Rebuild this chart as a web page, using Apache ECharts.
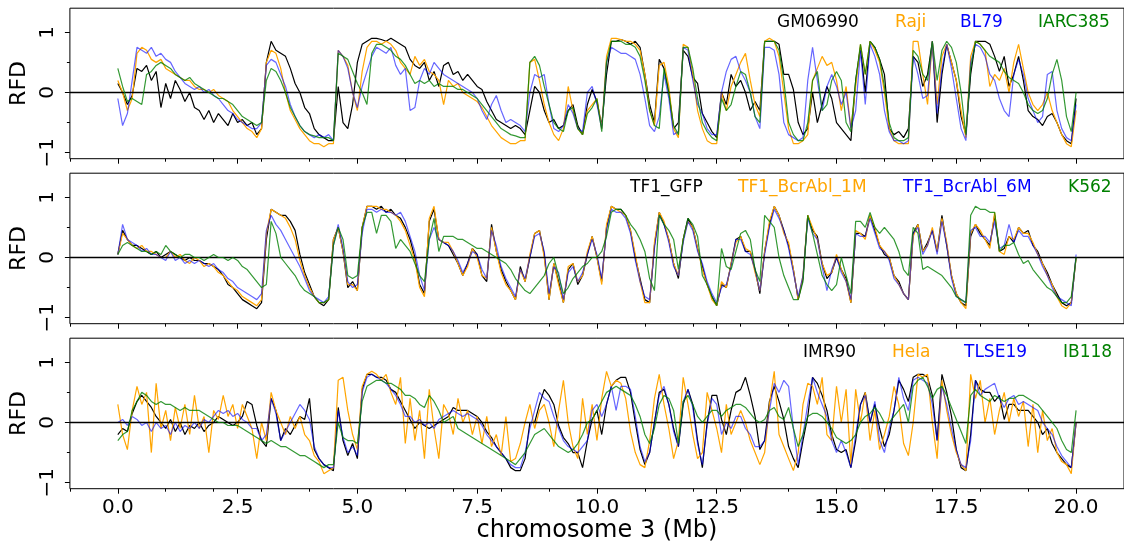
<!DOCTYPE html>
<html><head><meta charset="utf-8">
<script src="https://cdn.jsdelivr.net/npm/echarts@6/dist/echarts.min.js"></script>
<style>html,body{margin:0;padding:0;background:#fff}#chart{width:1124px;height:549px}</style>
</head><body><div id="chart"></div>
<script>
// ---------------- data ----------------
const START_MB = 0.0, STEP_MB = 0.1;           // sampling of every series (Mb)
const X_MAJOR_TICKS = [0, 2.5, 5, 7.5, 10, 12.5, 15, 17.5, 20];
const Y_MAJOR_TICKS = [-1, 0, 1];
const Y_MINOR_TICKS = [-0.5, 0.5];
const X_TITLE = 'chromosome 3 (Mb)';
const Y_TITLE = 'RFD';
const PANEL1_NAMES = ['GM06990', 'Raji', 'BL79', 'IARC385'];
const PANEL2_NAMES = ['TF1_GFP', 'TF1_BcrAbl_1M', 'TF1_BcrAbl_6M', 'K562'];
const PANEL3_NAMES = ['IMR90', 'Hela', 'TLSE19', 'IB118'];

// Panel 1
const GM06990 = [
 0.15,0.0,-0.2,-0.05,0.4,0.35,0.45,0.2,0.35,-0.25,
 0.15,-0.1,0.2,0.05,-0.15,0.0,-0.25,-0.3,-0.45,-0.3,
 -0.5,-0.35,-0.45,-0.55,-0.35,-0.5,-0.45,-0.55,-0.5,-0.7,
 -0.6,0.5,0.85,0.7,0.65,0.6,0.4,0.15,0.0,-0.25,
 -0.35,-0.6,-0.7,-0.75,-0.8,-0.8,0.1,-0.5,-0.6,-0.2,
 0.5,0.8,0.85,0.9,0.9,0.88,0.85,0.9,0.85,0.8,
 0.75,0.55,0.45,0.4,0.5,0.2,0.35,0.1,0.45,0.5,
 0.3,0.35,0.2,0.3,0.2,0.1,0.05,-0.15,-0.3,-0.45,
 -0.5,-0.55,-0.6,-0.55,-0.6,-0.7,-0.3,0.1,0.0,-0.3,
 -0.5,-0.45,-0.6,-0.55,-0.3,-0.2,-0.55,-0.7,-0.2,0.05,
 -0.15,-0.55,0.3,0.85,0.85,0.88,0.85,0.8,0.85,0.75,
 0.3,-0.2,-0.5,0.55,0.4,0.0,-0.6,-0.5,0.7,0.6,
 0.25,0.15,-0.35,-0.5,-0.65,-0.75,0.0,-0.2,0.3,0.1,
 0.2,0.0,-0.3,-0.15,-0.3,0.85,0.85,0.85,0.8,0.3,
 0.3,0.05,-0.5,-0.7,-0.6,0.0,-0.5,-0.2,0.1,-0.1,
 -0.5,-0.6,-0.7,-0.8,0.2,0.75,0.0,0.85,0.75,0.55,
 0.3,-0.6,-0.7,-0.65,-0.75,-0.6,0.6,0.5,0.1,0.3,
 0.85,-0.5,0.3,0.8,0.5,0.2,-0.4,-0.7,0.3,0.85,
 0.85,0.85,0.8,0.6,0.35,0.6,0.1,0.3,0.6,0.2,
 -0.3,-0.4,-0.45,-0.55,-0.4,-0.35,-0.5,-0.7,-0.8,-0.85,
 -0.1];
const Raji = [
 0.2,0.0,-0.3,-0.1,0.65,0.75,0.7,0.55,0.5,0.55,
 0.4,0.35,0.3,0.25,0.2,0.2,0.1,0.05,0.05,0.0,
 0.05,-0.05,-0.1,-0.15,-0.3,-0.4,-0.5,-0.6,-0.65,-0.75,
 -0.6,0.5,0.7,0.65,0.4,0.0,-0.3,-0.45,-0.6,-0.7,
 -0.8,-0.85,-0.85,-0.9,-0.85,-0.85,0.7,0.6,0.45,0.0,
 -0.3,0.35,0.75,0.85,0.85,0.8,0.85,0.8,0.7,0.5,
 0.4,0.3,0.6,0.45,0.55,0.35,0.3,0.2,-0.2,0.2,
 0.1,0.15,0.0,-0.05,-0.1,-0.15,-0.25,-0.4,-0.55,-0.65,
 -0.75,-0.8,-0.85,-0.85,-0.8,-0.8,0.5,0.55,0.2,-0.2,
 -0.5,-0.7,-0.8,-0.6,0.1,-0.3,-0.6,-0.7,-0.3,-0.2,
 -0.1,-0.6,0.6,0.9,0.9,0.88,0.85,0.85,0.8,0.7,
 0.3,-0.3,-0.55,0.45,0.5,0.1,-0.6,-0.75,0.8,0.75,
 0.3,-0.3,-0.6,-0.8,-0.85,-0.85,0.0,-0.3,0.1,0.3,
 0.5,0.65,0.2,-0.2,-0.4,0.85,0.9,0.85,0.6,0.0,
 -0.6,-0.85,-0.85,-0.8,-0.7,0.2,0.4,0.6,0.45,0.5,
 0.2,-0.3,0.1,-0.6,0.1,0.8,0.3,0.85,0.7,0.5,
 0.0,-0.6,-0.8,-0.85,-0.85,-0.85,0.85,0.85,0.3,-0.2,
 0.85,-0.2,0.6,0.8,0.5,0.2,-0.3,-0.75,0.6,0.85,
 0.8,0.7,0.1,0.3,0.2,0.4,0.0,0.5,0.8,0.4,
 0.0,-0.2,-0.3,-0.2,0.0,-0.3,-0.5,-0.7,-0.85,-0.9,
 -0.3];
const BL79 = [
 -0.1,-0.55,-0.35,0.2,0.75,0.7,0.65,0.75,0.6,0.65,
 0.55,0.5,0.35,0.25,0.15,0.1,0.05,0.1,0.0,0.05,
 -0.05,-0.1,-0.2,-0.3,-0.35,-0.45,-0.5,-0.55,-0.6,-0.6,
 -0.5,0.45,0.55,0.5,0.3,0.1,-0.2,-0.4,-0.55,-0.65,
 -0.7,-0.75,-0.7,-0.75,-0.7,-0.8,0.7,0.6,0.4,0.0,
 -0.25,0.1,0.35,0.6,0.75,0.7,0.65,0.75,0.45,0.3,
 0.4,-0.3,-0.25,0.2,0.4,0.3,0.5,0.4,0.3,0.25,
 0.2,0.15,0.1,0.05,0.0,-0.1,-0.3,-0.45,-0.2,-0.05,
 -0.3,-0.5,-0.45,-0.5,-0.55,-0.65,0.0,0.3,0.25,0.3,
 -0.2,-0.6,-0.65,-0.55,-0.2,-0.35,-0.6,-0.65,0.0,0.1,
 -0.2,-0.6,0.5,0.75,0.7,0.65,0.65,0.6,0.55,0.3,
 -0.1,-0.55,-0.65,-0.4,0.3,-0.1,-0.7,-0.65,0.75,0.7,
 0.2,-0.2,-0.35,-0.6,-0.7,-0.7,0.0,0.35,0.55,0.6,
 0.35,0.2,0.0,-0.4,-0.6,0.75,0.75,0.7,0.3,-0.5,
 -0.7,-0.75,-0.8,-0.75,0.2,0.75,0.2,-0.3,0.1,0.3,
 0.1,-0.2,0.0,-0.6,-0.3,0.7,-0.2,0.8,0.6,0.3,
 -0.3,-0.65,-0.8,-0.8,-0.85,-0.8,0.6,0.3,-0.1,-0.05,
 0.85,-0.35,0.4,0.8,0.4,-0.1,-0.6,-0.8,0.5,0.8,
 0.75,0.6,0.3,0.2,-0.1,-0.3,-0.4,0.3,0.55,0.3,
 -0.1,-0.3,-0.5,-0.4,0.3,0.35,-0.3,-0.6,-0.75,-0.8,
 -0.2];
const IARC385 = [
 0.4,0.1,-0.15,-0.1,-0.15,-0.2,0.3,0.35,0.45,0.5,
 0.45,0.4,0.3,0.25,0.2,0.25,0.15,0.1,0.05,0.0,
 -0.05,-0.1,-0.1,-0.15,-0.2,-0.3,-0.4,-0.45,-0.5,-0.55,
 -0.5,0.2,0.4,0.35,0.2,0.0,-0.25,-0.4,-0.55,-0.65,
 -0.7,-0.72,-0.75,-0.75,-0.75,-0.8,0.65,0.6,0.55,0.35,
 0.15,0.0,-0.2,0.65,0.8,0.8,0.75,0.7,0.6,0.55,
 0.45,0.3,0.15,0.2,0.15,0.2,0.1,0.15,0.1,0.1,
 0.1,0.05,0.05,0.0,-0.05,-0.1,-0.2,-0.3,-0.4,-0.5,
 -0.6,-0.65,-0.7,-0.72,-0.75,-0.75,0.5,0.6,0.45,0.1,
 -0.2,-0.5,-0.6,-0.65,-0.3,-0.25,-0.6,-0.7,-0.35,-0.25,
 -0.1,-0.65,0.5,0.85,0.85,0.85,0.8,0.8,0.75,0.6,
 0.2,-0.3,-0.55,-0.6,0.4,0.0,-0.55,-0.7,0.75,0.75,
 0.4,-0.1,-0.5,-0.65,-0.75,-0.8,-0.1,-0.3,-0.2,0.1,
 0.35,0.3,0.0,-0.4,-0.5,0.85,0.85,0.85,0.7,0.2,
 -0.5,-0.7,-0.8,-0.8,-0.5,0.2,0.35,-0.3,-0.2,0.2,
 0.35,0.2,-0.5,-0.65,0.2,0.8,0.3,0.85,0.75,0.55,
 0.1,-0.5,-0.75,-0.8,-0.8,-0.75,0.7,0.6,0.3,0.2,
 0.85,0.2,0.7,0.85,0.75,0.5,0.0,-0.7,0.4,0.85,
 0.8,0.7,0.6,0.55,0.5,0.35,0.25,0.2,0.15,0.0,
 -0.2,-0.3,-0.35,-0.3,-0.1,0.3,0.55,0.2,-0.4,-0.65,
 0.0];

// Panel 2
const TF1_GFP = [
 0.05,0.45,0.3,0.2,0.2,0.15,0.1,0.05,0.1,0.0,
 0.05,0.1,0.05,0.0,-0.05,0.0,-0.05,-0.05,-0.1,-0.1,
 -0.15,-0.2,-0.3,-0.45,-0.5,-0.6,-0.7,-0.75,-0.8,-0.85,
 -0.75,0.3,0.8,0.75,0.7,0.7,0.6,0.45,0.05,-0.25,
 -0.45,-0.65,-0.75,-0.8,-0.7,0.3,0.5,0.1,-0.5,-0.4,
 -0.55,0.5,0.85,0.85,0.8,0.85,0.75,0.8,0.7,0.65,
 0.5,0.3,0.0,-0.45,-0.6,0.6,0.8,0.3,0.25,0.2,
 0.05,-0.1,-0.3,-0.1,0.15,0.05,-0.3,-0.4,0.55,0.1,
 -0.2,-0.4,-0.55,-0.7,-0.15,-0.4,0.0,0.4,0.45,0.05,
 -0.7,-0.1,-0.4,-0.75,-0.2,-0.1,-0.45,-0.3,0.05,0.35,
 0.0,-0.4,0.5,0.85,0.8,0.8,0.7,0.45,0.0,-0.35,
 -0.7,-0.75,0.2,0.75,0.55,0.3,-0.1,-0.35,0.3,0.65,
 0.5,0.15,-0.15,-0.45,-0.65,-0.8,-0.45,-0.5,-0.1,0.3,
 0.35,0.1,0.1,-0.2,-0.6,0.1,0.55,0.85,0.7,0.45,
 0.2,-0.2,-0.7,-0.35,0.7,0.45,0.35,-0.1,-0.35,-0.25,
 0.0,-0.2,-0.35,-0.75,0.4,0.4,0.35,0.7,0.45,0.2,
 0.05,0.0,-0.3,-0.4,-0.6,-0.7,0.4,0.55,0.1,0.25,
 0.45,0.1,0.7,0.2,-0.3,-0.6,-0.75,-0.8,0.35,0.55,
 0.4,0.3,0.2,0.7,0.1,0.15,0.35,0.25,0.5,0.4,
 0.45,0.2,0.1,-0.1,-0.25,-0.45,-0.6,-0.75,-0.8,-0.75,
 0.0];
const TF1_BcrAbl_1M = [
 0.05,0.4,0.3,0.2,0.15,0.2,0.1,0.1,0.05,0.0,
 0.0,0.1,0.0,0.05,-0.05,-0.1,0.0,-0.05,-0.15,-0.1,
 -0.15,-0.25,-0.3,-0.4,-0.5,-0.55,-0.65,-0.7,-0.75,-0.8,
 -0.7,0.4,0.8,0.75,0.7,0.65,0.5,0.3,-0.05,-0.3,
 -0.5,-0.65,-0.75,-0.75,-0.7,0.3,0.5,0.1,-0.45,-0.45,
 -0.55,0.5,0.85,0.85,0.85,0.8,0.8,0.75,0.7,0.6,
 0.45,0.2,-0.05,-0.5,-0.65,0.65,0.85,0.3,0.25,0.25,
 0.1,-0.1,-0.3,-0.15,0.15,0.0,-0.3,-0.35,0.5,0.1,
 -0.25,-0.45,-0.55,-0.7,-0.2,-0.4,0.05,0.4,0.45,0.0,
 -0.7,-0.1,-0.45,-0.75,-0.15,-0.1,-0.4,-0.3,0.1,0.35,
 0.0,-0.45,0.55,0.85,0.8,0.75,0.7,0.45,0.05,-0.4,
 -0.75,-0.75,0.25,0.75,0.6,0.3,-0.1,-0.3,0.3,0.6,
 0.5,0.15,-0.2,-0.45,-0.7,-0.8,-0.4,-0.5,-0.1,0.25,
 0.35,0.15,0.1,-0.25,-0.55,0.1,0.6,0.85,0.7,0.4,
 0.25,-0.2,-0.7,-0.3,0.7,0.5,0.3,-0.1,-0.3,-0.25,
 0.05,-0.2,-0.4,-0.75,0.45,0.4,0.3,0.7,0.5,0.2,
 0.1,0.0,-0.3,-0.45,-0.6,-0.7,0.35,0.55,0.1,0.2,
 0.5,0.1,0.65,0.25,-0.3,-0.6,-0.75,-0.85,0.4,0.55,
 0.45,0.3,0.15,0.75,0.1,0.05,0.35,0.3,0.5,0.4,
 0.4,0.25,0.05,-0.1,-0.3,-0.45,-0.65,-0.8,-0.85,-0.75,
 0.0];
const TF1_BcrAbl_6M = [
 0.05,0.55,0.3,0.25,0.2,0.1,0.15,0.05,0.05,0.0,
 -0.05,0.1,-0.05,0.0,-0.1,-0.05,-0.1,-0.05,-0.1,-0.15,
 -0.1,-0.2,-0.25,-0.35,-0.4,-0.5,-0.55,-0.6,-0.65,-0.7,
 -0.6,0.45,0.7,0.55,0.45,0.3,0.15,0.0,-0.15,-0.35,
 -0.55,-0.65,-0.7,-0.75,-0.65,0.2,0.55,0.15,-0.4,-0.5,
 -0.45,0.4,0.8,0.8,0.75,0.8,0.75,0.75,0.7,0.75,
 0.6,0.35,0.1,-0.3,-0.55,0.3,0.5,0.3,0.25,0.2,
 0.1,-0.05,-0.25,-0.1,0.1,0.05,-0.2,-0.35,0.45,0.2,
 -0.15,-0.35,-0.5,-0.65,-0.2,-0.35,0.0,0.35,0.4,0.1,
 -0.6,-0.15,-0.25,-0.7,-0.25,-0.15,-0.4,-0.25,0.05,0.3,
 0.05,-0.35,0.45,0.8,0.75,0.75,0.65,0.4,-0.05,-0.4,
 -0.65,-0.7,0.15,0.7,0.55,0.25,-0.15,-0.3,0.25,0.6,
 0.45,0.1,-0.1,-0.4,-0.6,-0.75,-0.5,-0.45,-0.15,0.3,
 0.3,0.1,0.05,-0.2,-0.55,0.05,0.5,0.8,0.65,0.45,
 0.15,-0.25,-0.65,-0.3,0.65,0.4,0.3,-0.15,-0.55,-0.2,
 0.0,-0.25,-0.4,-0.7,0.4,0.35,0.35,0.65,0.4,0.15,
 0.1,-0.05,-0.35,-0.45,-0.6,-0.7,0.4,0.5,0.05,0.2,
 0.45,0.05,0.6,0.2,-0.35,-0.65,-0.7,-0.75,0.45,0.5,
 0.35,0.35,0.25,0.6,0.15,0.2,0.55,0.25,0.45,0.35,
 0.35,0.2,0.05,-0.15,-0.3,-0.5,-0.65,-0.7,-0.75,-0.8,
 0.05];
const K562 = [
 0.05,0.2,0.25,0.2,0.15,0.1,0.1,0.05,0.1,0.05,
 0.2,0.1,0.05,0.0,0.05,0.05,0.0,0.0,-0.05,0.0,
 0.05,0.0,0.0,-0.05,0.0,-0.05,-0.15,-0.2,-0.3,-0.4,
 -0.5,-0.45,0.6,0.4,0.0,-0.1,-0.2,-0.3,-0.45,-0.55,
 -0.6,-0.65,-0.75,-0.75,-0.7,0.2,0.5,0.3,-0.3,-0.35,
 -0.3,0.5,0.75,0.75,0.4,0.7,0.7,0.6,0.15,0.3,
 0.2,0.1,-0.1,-0.3,-0.4,0.3,0.65,0.1,0.35,0.35,
 0.35,0.3,0.3,0.25,0.2,0.15,0.15,0.1,0.05,0.0,
 -0.05,-0.1,-0.2,-0.35,-0.45,-0.55,-0.6,-0.5,-0.4,-0.3,
 -0.1,0.0,-0.3,-0.6,-0.5,-0.35,-0.25,-0.15,-0.1,0.0,
 0.0,0.1,0.35,0.75,0.8,0.8,0.7,0.55,0.45,0.3,
 0.1,-0.35,-0.55,0.7,0.55,0.45,0.3,-0.2,0.3,0.65,
 0.55,0.35,-0.3,-0.45,-0.65,-0.8,0.15,-0.15,-0.2,0.1,
 0.4,0.45,0.3,-0.2,-0.4,0.7,0.6,0.5,0.0,-0.3,
 -0.5,-0.7,-0.7,-0.4,0.7,0.4,0.05,-0.3,-0.45,-0.55,
 -0.45,0.0,-0.3,-0.6,0.6,0.6,0.5,0.75,0.5,0.4,
 0.5,0.4,0.3,0.1,-0.2,-0.3,0.5,0.4,-0.2,-0.15,
 -0.2,-0.25,-0.3,-0.4,-0.5,-0.65,-0.7,-0.75,0.7,0.85,
 0.8,0.8,0.75,0.75,0.1,0.2,0.2,0.25,0.05,-0.1,
 -0.05,-0.2,-0.3,-0.4,-0.5,-0.55,-0.65,-0.75,-0.75,-0.65,
 0.0];

// Panel 3
const IMR90 = [
 -0.2,-0.1,-0.15,0.15,0.35,0.45,0.35,0.25,0.1,0.0,
 -0.1,0.05,-0.15,0.0,-0.2,-0.05,-0.1,0.0,-0.15,-0.05,
 0.0,0.1,0.05,0.0,-0.05,0.0,0.1,0.35,0.3,-0.05,
 -0.3,-0.4,0.4,0.2,-0.3,-0.1,-0.2,-0.05,0.1,0.05,
 0.4,-0.45,-0.6,-0.7,-0.75,-0.8,0.25,-0.3,-0.55,-0.35,
 -0.6,0.55,0.8,0.8,0.75,0.75,0.7,0.55,0.5,0.35,
 0.2,0.05,-0.1,0.0,-0.05,-0.1,-0.05,0.0,0.05,0.1,
 0.25,0.2,0.2,0.2,0.15,0.1,0.0,-0.15,-0.25,-0.4,
 -0.5,-0.6,-0.75,-0.8,-0.8,-0.6,0.0,0.0,0.3,0.55,
 0.45,0.3,-0.05,-0.25,-0.35,-0.5,-0.5,-0.75,-0.3,0.05,
 0.2,-0.2,0.3,0.6,0.7,0.75,0.75,0.5,0.0,-0.45,
 -0.7,-0.5,0.0,0.5,0.55,0.3,-0.1,-0.4,0.3,0.55,
 0.3,-0.3,-0.75,0.0,0.45,0.45,0.05,-0.2,0.2,0.5,
 0.55,0.75,0.45,0.1,-0.45,-0.3,0.35,0.6,0.35,0.05,
 -0.4,-0.6,-0.75,-0.3,0.1,0.75,0.65,0.45,0.2,-0.2,
 -0.45,-0.5,-0.45,-0.75,-0.3,0.3,0.5,0.0,0.3,-0.1,
 -0.4,-0.2,0.2,0.7,0.55,0.35,0.75,0.8,0.8,0.75,
 0.45,-0.3,0.8,0.5,0.1,-0.45,-0.75,-0.8,-0.2,0.7,
 0.55,0.5,0.5,0.35,0.45,0.05,0.3,0.3,0.2,0.2,
 0.2,0.1,0.0,-0.2,-0.1,-0.35,-0.5,-0.6,-0.7,-0.75,
 0.0];
const Hela = [
 0.3,-0.2,-0.45,0.2,0.6,0.3,0.5,-0.5,0.65,-0.1,
 0.2,-0.3,0.25,-0.1,0.3,-0.2,0.45,-0.1,0.1,-0.5,
 0.2,0.05,0.45,0.1,0.3,-0.1,0.3,0.1,-0.1,-0.6,
 0.0,-0.3,0.5,0.2,0.0,-0.2,0.1,-0.1,0.1,-0.2,
 -0.3,-0.55,-0.65,-0.85,-0.8,-0.75,0.7,0.75,0.2,-0.2,
 -0.45,0.6,0.8,0.85,0.8,0.7,0.8,0.5,0.3,0.75,
 -0.35,0.4,-0.3,0.2,-0.6,0.55,-0.1,-0.6,0.3,0.15,
 -0.2,0.4,0.0,0.2,-0.2,0.1,-0.35,0.1,-0.4,-0.2,
 -0.55,0.1,-0.65,-0.6,-0.35,0.0,0.3,-0.1,0.2,0.3,
 0.0,-0.4,0.2,0.7,0.0,-0.4,-0.6,0.4,-0.2,0.3,
 -0.3,0.4,0.85,0.6,0.7,0.65,0.4,-0.15,-0.5,-0.7,
 -0.75,-0.3,0.4,0.8,0.3,-0.1,-0.6,-0.3,0.75,0.3,
 -0.2,-0.6,-0.5,0.5,0.2,-0.1,-0.5,0.3,-0.2,0.0,
 0.2,0.0,-0.3,-0.5,-0.7,-0.5,0.3,0.85,-0.2,-0.4,
 -0.6,-0.8,-0.5,0.3,0.65,0.6,0.3,0.75,-0.2,-0.3,
 0.6,0.0,0.55,-0.7,0.55,0.0,0.5,-0.3,0.2,-0.45,
 -0.2,0.1,0.6,0.3,-0.35,-0.55,0.0,0.8,0.75,0.8,
 0.0,-0.6,0.7,0.2,-0.2,-0.5,-0.7,-0.8,0.8,0.4,
 0.7,0.0,0.4,-0.2,0.2,0.5,0.0,0.4,0.1,0.35,
 -0.4,0.3,-0.5,0.2,-0.3,-0.1,-0.5,-0.65,-0.7,-0.85,
 0.0];
const TLSE19 = [
 0.0,0.05,-0.05,0.1,0.05,-0.05,0.0,-0.15,0.0,-0.1,
 -0.05,-0.2,0.0,-0.15,-0.05,-0.1,0.0,-0.1,0.05,0.0,
 0.1,0.2,0.15,0.2,0.1,0.15,0.05,0.0,-0.1,-0.1,
 -0.3,-0.2,0.4,0.15,-0.3,-0.15,0.0,0.15,0.3,0.2,
 0.05,-0.4,-0.6,-0.7,-0.75,-0.75,0.2,-0.25,-0.5,-0.4,
 -0.55,0.5,0.75,0.8,0.75,0.7,0.65,0.55,0.45,0.3,
 0.1,0.1,0.0,0.05,-0.05,0.0,-0.1,0.05,0.1,0.15,
 0.2,0.15,0.1,0.15,0.1,0.05,-0.05,-0.2,-0.3,-0.4,
 -0.5,-0.6,-0.7,-0.75,-0.75,-0.5,-0.1,0.2,0.5,0.4,
 0.35,0.1,-0.1,-0.3,-0.4,-0.45,-0.5,-0.4,-0.3,0.2,
 0.3,0.1,0.3,0.6,0.2,0.6,0.6,0.55,0.1,-0.4,
 -0.65,-0.5,0.0,0.45,0.6,0.3,-0.15,-0.4,0.35,0.55,
 0.25,-0.35,-0.7,-0.05,0.4,0.3,-0.2,0.0,-0.1,0.1,
 0.1,-0.1,-0.2,-0.4,-0.4,-0.3,0.2,0.65,0.5,0.7,
 0.6,-0.1,-0.7,-0.2,0.3,0.75,0.5,0.3,0.1,-0.3,
 -0.5,-0.3,-0.5,-0.75,-0.2,0.3,0.45,0.0,0.35,-0.3,
 -0.5,-0.1,0.2,0.75,0.4,0.2,0.7,0.75,0.7,0.65,
 0.3,-0.3,0.6,0.3,-0.1,-0.45,-0.7,-0.75,-0.3,0.7,
 0.45,0.55,0.6,0.65,0.4,0.25,0.4,0.45,0.3,0.35,
 0.3,0.25,0.2,0.0,-0.1,-0.2,-0.4,-0.55,-0.65,-0.75,
 0.0];
const IB118 = [
 -0.3,-0.2,-0.15,0.2,0.35,0.5,0.45,0.35,0.3,0.35,
 0.3,0.3,0.25,0.2,0.25,0.2,0.2,0.2,0.15,0.1,
 0.05,0.0,0.0,-0.05,-0.05,-0.05,-0.1,-0.15,-0.2,-0.25,
 -0.3,-0.35,-0.3,-0.35,-0.4,-0.4,-0.45,-0.5,-0.55,-0.55,
 -0.6,-0.65,-0.7,-0.75,-0.7,-0.7,0.0,-0.25,-0.3,-0.3,
 -0.35,0.35,0.6,0.65,0.7,0.7,0.65,0.65,0.6,0.55,
 0.45,0.45,0.4,0.3,0.25,0.45,0.35,0.2,0.0,0.05,
 0.1,-0.1,-0.15,-0.2,-0.25,-0.3,-0.35,-0.4,-0.45,-0.5,
 -0.55,-0.6,-0.65,-0.7,-0.6,-0.5,-0.35,-0.2,-0.15,-0.1,
 -0.2,-0.3,-0.4,-0.45,-0.5,-0.45,-0.35,-0.2,0.0,0.05,
 0.2,0.35,0.5,0.55,0.6,0.55,0.5,0.45,0.3,0.1,
 -0.2,-0.35,-0.1,0.3,0.45,0.4,0.2,-0.35,0.35,0.45,
 0.3,0.1,0.0,0.1,0.2,0.2,0.1,0.2,0.25,0.3,
 0.3,0.25,0.15,0.05,0.0,0.05,0.2,0.25,0.1,0.05,
 0.25,-0.1,-0.4,-0.2,0.1,0.15,0.15,0.1,0.0,-0.1,
 -0.25,-0.3,-0.35,-0.3,-0.2,0.0,0.1,0.15,0.25,0.15,
 0.0,0.0,0.1,0.2,0.3,0.0,0.6,0.7,0.75,0.6,
 0.4,0.55,0.6,0.45,0.25,0.05,-0.15,-0.35,0.45,0.55,
 0.45,0.4,0.35,0.45,0.4,0.35,0.4,0.4,0.45,0.45,
 0.4,0.35,0.3,0.2,0.1,0.0,-0.1,-0.3,-0.45,-0.5,
 0.2];

// ---------------- chart ----------------
const FONT = '"DejaVu Sans", "Liberation Sans", sans-serif';
const COLORS = ['#000000', '#FFA500', '#0000FF', '#008000'];
const OPAC = [1, 1, 0.6, 0.8];
const PANELS = [
  { names: PANEL1_NAMES, values: [GM06990, Raji, BL79, IARC385], top: 8.2,   legendY: 23,  legendX: [777, 895, 960, 1038] },
  { names: PANEL2_NAMES, values: [TF1_GFP, TF1_BcrAbl_1M, TF1_BcrAbl_6M, K562], top: 173.2, legendY: 188, legendX: [630, 738, 903, 1068] },
  { names: PANEL3_NAMES, values: [IMR90, Hela, TLSE19, IB118], top: 338.2, legendY: 353, legendX: [803, 892, 964, 1063] }
];
const toPts = vals => vals.map((v, i) => [Math.round((START_MB + i * STEP_MB) * 100) / 100, v]);
const fmtY = v => (v < 0 ? '\u2212' + Math.abs(v) : String(v));
const noLine = { show: false, onZero: false };

const grid = [], xAxis = [], yAxis = [], series = [], graphic = [];
PANELS.forEach((p, g) => {
  grid.push({ left: 68, top: p.top, width: 1059, height: 150.5, show: true, borderColor: '#000', borderWidth: 1, backgroundColor: 'transparent' });
  const last = g === PANELS.length - 1;
  xAxis.push({
    gridIndex: g, type: 'value', min: -1, max: 21, position: 'bottom',
    axisLine: noLine, splitLine: { show: false },
    axisTick: { show: true, customValues: X_MAJOR_TICKS, length: 5, lineStyle: { color: '#000', width: 1 } },
    axisLabel: { show: last, customValues: X_MAJOR_TICKS, formatter: v => v.toFixed(1), fontFamily: FONT, fontSize: 20, color: '#000', margin: 9 },
    name: last ? X_TITLE : '', nameLocation: 'middle', nameGap: 29,
    nameTextStyle: { fontFamily: FONT, fontSize: 24, color: '#000', verticalAlign: 'top' }
  });
  xAxis.push({
    gridIndex: g, type: 'value', min: -1, max: 21, interval: 1, position: 'bottom',
    axisLine: noLine, splitLine: { show: false }, axisLabel: { show: false },
    axisTick: { show: true, length: 3, lineStyle: { color: '#000', width: 1 } }
  });
  yAxis.push({
    gridIndex: g, type: 'value', min: -1.1, max: 1.4, position: 'left',
    axisLine: noLine, splitLine: { show: false },
    axisTick: { show: true, customValues: Y_MAJOR_TICKS, length: 5, lineStyle: { color: '#000', width: 1 } },
    axisLabel: { customValues: Y_MAJOR_TICKS, formatter: fmtY, rotate: 90, fontFamily: FONT, fontSize: 20, color: '#000', margin: 12 },
    name: Y_TITLE, nameLocation: 'middle', nameGap: 35, nameRotate: 90,
    nameTextStyle: { fontFamily: FONT, fontSize: 22, color: '#000' }
  });
  yAxis.push({
    gridIndex: g, type: 'value', min: -1.1, max: 1.4, position: 'left',
    axisLine: noLine, splitLine: { show: false }, axisLabel: { show: false },
    axisTick: { show: true, customValues: Y_MINOR_TICKS, length: 3, lineStyle: { color: '#000', width: 1 } }
  });
  p.values.forEach((vals, k) => {
    const s = {
      type: 'line', name: p.names[k], xAxisIndex: 2 * g, yAxisIndex: 2 * g,
      data: toPts(vals), showSymbol: false, symbol: 'none', silent: true, z: 2 + k,
      lineStyle: { color: COLORS[k], width: 1.2, opacity: OPAC[k] }, itemStyle: { color: COLORS[k] }
    };
    if (k === 3) {
      s.markLine = { silent: true, symbol: ['none', 'none'], label: { show: false },
        lineStyle: { color: '#000', width: 1.3, type: 'solid' }, data: [{ yAxis: 0 }], animation: false };
    }
    series.push(s);
    graphic.push({ type: 'text', x: p.legendX[k], y: p.legendY, silent: true,
      style: { text: p.names[k], fill: COLORS[k], font: '17px ' + FONT, align: 'left', verticalAlign: 'middle' } });
  });
});

const chart = echarts.init(document.getElementById('chart'), null, { renderer: 'canvas' });
chart.setOption({ animation: false, backgroundColor: '#fff', grid, xAxis, yAxis, series, graphic });
</script></body></html>
